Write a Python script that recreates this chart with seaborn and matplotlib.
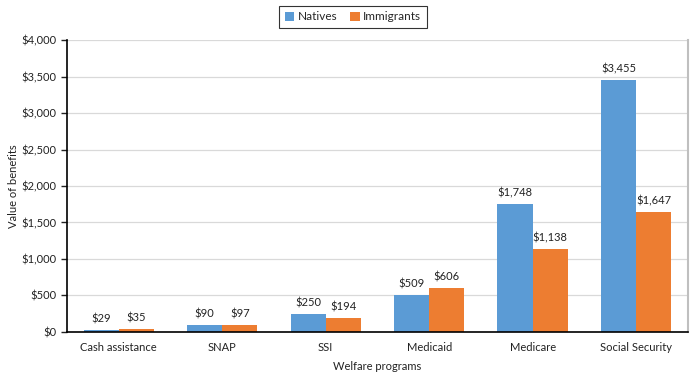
import matplotlib
matplotlib.use("Agg")
import matplotlib.pyplot as plt
import matplotlib.ticker as mticker
import seaborn as sns
import pandas as pd
import numpy as np

categories = ["Cash assistance", "SNAP", "SSI", "Medicaid", "Medicare", "Social Security"]
natives = [29, 90, 250, 509, 1748, 3455]
immigrants = [35, 97, 194, 606, 1138, 1647]
series = ["Natives", "Immigrants"]
colors = ["#5B9BD5", "#ED7D31"]

df = pd.DataFrame({
    "program": categories * 2,
    "group": [series[0]] * len(categories) + [series[1]] * len(categories),
    "value": natives + immigrants,
})

sns.set_theme(style="white")
plt.rcParams["font.family"] = ["Lato", "DejaVu Sans"]

fig = plt.figure(figsize=(7, 3.75), dpi=100)
ax = fig.add_axes([0.0957, 0.1147, 0.887, 0.7786])

sns.barplot(data=df, x="program", y="value", hue="group", order=categories,
            hue_order=series, palette=colors, width=0.68, ax=ax,
            saturation=1, errorbar=None, legend=True, linewidth=0, edgecolor="none")

ax.set_ylim(0, 4000)
ax.set_xlim(-0.5, len(categories) - 0.5)
ax.yaxis.set_major_locator(mticker.MultipleLocator(500))
ax.yaxis.set_major_formatter(mticker.FuncFormatter(lambda v, p: f"${v:,.0f}"))
ax.grid(axis="y", color="#d9d9d9", linewidth=0.9)
ax.set_axisbelow(True)

for c in ax.containers:
    ax.bar_label(c, labels=[f"${v:,.0f}" for v in c.datavalues], padding=4,
                 fontsize=8, color="#222222")

ax.set_xlabel("Welfare programs", fontsize=8, color="#222222", labelpad=6)
ax.set_ylabel("Value of benefits", fontsize=8, color="#222222")
ax.yaxis.set_label_coords(-0.077, 0.5)
ax.tick_params(axis="x", which="major", length=0, labelsize=8, colors="#222222", pad=7)
ax.set_xticks(np.arange(-0.5, len(categories), 1.0), minor=True)
ax.tick_params(axis="x", which="minor", length=4, width=1, color="black", direction="out")
ax.tick_params(axis="y", labelsize=8, colors="#222222", length=4, width=1, direction="out", left=True)

ax.spines["top"].set_visible(False)
ax.spines["right"].set_color("#bfbfbf")
ax.spines["right"].set_linewidth(1.5)
ax.spines["left"].set_color("black")
ax.spines["bottom"].set_color("black")
ax.spines["left"].set_linewidth(1.2)
ax.spines["bottom"].set_linewidth(1.2)

leg = ax.legend(loc="center", bbox_to_anchor=(0.4605, 1.079), ncol=2, frameon=True,
                fontsize=8.5, handlelength=0.8, handleheight=0.8, handletextpad=0.3,
                columnspacing=1.1, borderpad=0.45, fancybox=False)
leg.get_frame().set_edgecolor("black")
leg.get_frame().set_linewidth(0.8)

fig.savefig("out.png", dpi=100)
